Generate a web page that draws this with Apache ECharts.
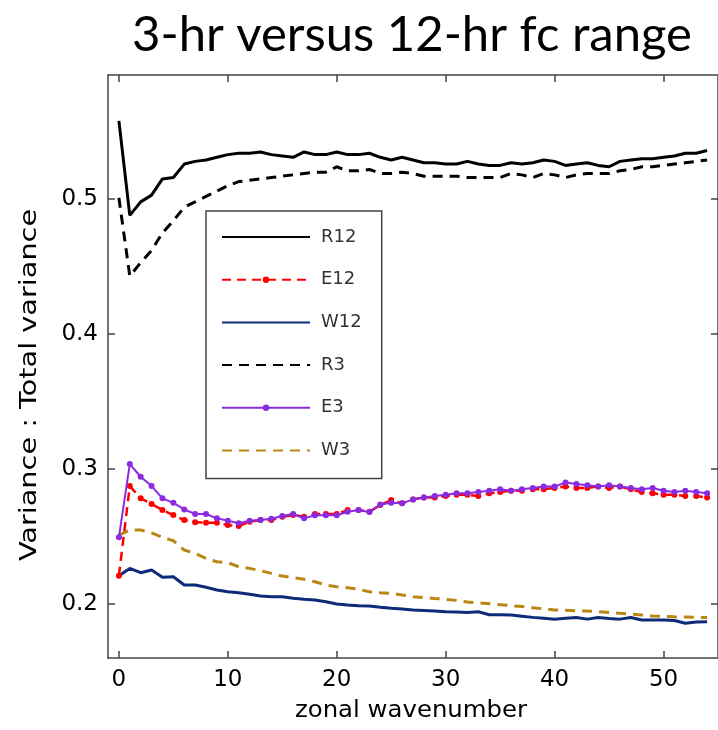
<!DOCTYPE html>
<html>
<head>
<meta charset="utf-8">
<script src="https://cdn.jsdelivr.net/npm/echarts@6/dist/echarts.min.js"></script>
<style>
html,body{margin:0;padding:0;background:#fff;}
#chart{width:718px;height:730px;}
</style>
</head>
<body>
<div id="chart"></div>
<script>
// ---- data ----
var title = '3-hr versus 12-hr fc range';
var xName = 'zonal wavenumber';
var yName = 'Variance : Total variance';
var xTicks = [0, 10, 20, 30, 40, 50];
var yTicks = [0.2, 0.3, 0.4, 0.5];
var seriesNames = ['R12', 'E12', 'W12', 'R3', 'E3', 'W3'];
var wavenumber = [0,1,2,3,4,5,6,7,8,9,10,11,12,13,14,15,16,17,18,19,20,21,22,23,24,25,26,27,28,29,30,31,32,33,34,35,36,37,38,39,40,41,42,43,44,45,46,47,48,49,50,51,52,53,54];

var R12 = [0.558,0.488,0.498,0.503,0.515,0.516,0.526,0.528,0.529,0.531,0.533,0.534,0.534,0.535,0.533,0.532,0.531,0.535,0.533,0.533,
           0.535,0.533,0.533,0.534,0.531,0.529,0.531,0.529,0.527,0.527,0.526,0.526,0.528,0.526,0.525,0.525,0.527,0.526,0.527,0.529,
           0.528,0.525,0.526,0.527,0.525,0.524,0.528,0.529,0.530,0.530,0.531,0.532,0.534,0.534,0.536];
var E12 = [0.221,0.2874,0.2783,0.2741,0.2696,0.2659,0.2622,0.2605,0.2603,0.2603,0.2585,0.2578,0.261,0.2622,0.2622,0.2647,0.2659,0.2647,0.2667,0.2667,
           0.2667,0.2696,0.2696,0.2684,0.2733,0.277,0.2746,0.2775,0.279,0.279,0.280,0.281,0.281,0.280,0.282,0.283,0.284,0.284,0.285,0.285,
           0.286,0.287,0.286,0.286,0.287,0.286,0.287,0.285,0.283,0.282,0.281,0.281,0.280,0.280,0.279];
var W12 = [0.221,0.2264,0.2232,0.2252,0.2198,0.2202,0.2141,0.2141,0.2124,0.2104,0.2091,0.2084,0.2072,0.2059,0.2054,0.2054,0.2042,0.2035,0.203,0.2017,
           0.2,0.1993,0.1988,0.1985,0.1976,0.1968,0.1963,0.1956,0.1952,0.1948,0.1943,0.194,0.1937,0.1943,0.192,0.192,0.1919,0.191,0.1901,0.1895,
           0.1887,0.1895,0.19,0.1888,0.19,0.1893,0.1888,0.19,0.1881,0.1881,0.1881,0.1878,0.1857,0.1866,0.1869];
var R3 = [0.501,0.443,0.453,0.462,0.475,0.484,0.494,0.498,0.502,0.506,0.510,0.513,0.514,0.515,0.516,0.517,0.518,0.519,0.520,0.520,
          0.524,0.521,0.521,0.522,0.519,0.519,0.520,0.519,0.517,0.517,0.517,0.517,0.516,0.516,0.516,0.516,0.519,0.518,0.516,0.519,
          0.518,0.516,0.518,0.519,0.519,0.519,0.521,0.522,0.524,0.524,0.525,0.526,0.527,0.528,0.529];
var E3 = [0.2494,0.3037,0.2943,0.2874,0.2783,0.275,0.2701,0.2667,0.2667,0.2635,0.2617,0.2598,0.2617,0.2622,0.2632,0.2652,0.2667,0.2635,0.2657,0.2657,
          0.2657,0.2684,0.2696,0.2681,0.2738,0.275,0.2746,0.2775,0.279,0.280,0.281,0.282,0.282,0.283,0.284,0.285,0.284,0.285,0.286,0.287,
          0.287,0.290,0.289,0.288,0.287,0.288,0.287,0.286,0.285,0.286,0.284,0.283,0.284,0.283,0.282];
var W3 = [0.251,0.2548,0.2548,0.2528,0.2494,0.2469,0.24,0.2375,0.2338,0.2313,0.2306,0.2276,0.2264,0.2247,0.2227,0.2207,0.2195,0.2183,0.2165,0.2141,
          0.2128,0.2121,0.2109,0.2091,0.2084,0.2079,0.2067,0.2054,0.2048,0.2041,0.2035,0.2027,0.2015,0.2008,0.2002,0.1995,0.1988,0.1981,0.1972,0.1964,
          0.1956,0.1953,0.195,0.1948,0.1944,0.1938,0.1931,0.1926,0.1918,0.1912,0.1908,0.1905,0.1903,0.1901,0.1901];

function pairs(vals) {
  return wavenumber.map(function (k, i) { return [k, vals[i]]; });
}

var chart = echarts.init(document.getElementById('chart'), null, {renderer: 'canvas'});
var axisColor = '#444';
var tickFont = 'DejaVu Sans, sans-serif';

function xAxisDef(pos, labels) {
  return {
    type: 'value', min: -1, max: 55, position: pos,
    axisLine: {show: true, onZero: false, lineStyle: {color: axisColor, width: 1.5}},
    axisTick: {show: true, inside: true, length: 7, customValues: xTicks, lineStyle: {color: axisColor, width: 1.5}},
    axisLabel: {show: labels, customValues: xTicks, color: '#000', fontSize: 23, fontFamily: tickFont, margin: 11},
    splitLine: {show: false}
  };
}
function yAxisDef(pos, labels) {
  return {
    type: 'value', min: 0.16, max: 0.592, position: pos,
    axisLine: {show: true, onZero: false, lineStyle: {color: axisColor, width: 1.5}},
    axisTick: {show: true, inside: true, length: 7, customValues: yTicks, lineStyle: {color: axisColor, width: 1.5}},
    axisLabel: {show: labels, customValues: yTicks, color: '#000', fontSize: 23, fontFamily: tickFont, margin: 10,
      formatter: function (v) { return v.toFixed(1); }},
    splitLine: {show: false}
  };
}

var noMark = {color: 'rgba(0,0,0,0)'};

var option = {
  backgroundColor: '#fff',
  animation: false,
  grid: {left: 108, top: 75, width: 612, height: 583, show: false},
  xAxis: [xAxisDef('bottom', true), xAxisDef('top', false)],
  yAxis: [yAxisDef('left', true), yAxisDef('right', false)],
  legend: {
    orient: 'vertical', left: 206, top: 211,
    backgroundColor: '#fff', borderColor: '#444', borderWidth: 1.5,
    padding: [17, 20, 19, 15],
    itemWidth: 88, itemHeight: 8, itemGap: 24.7,
    textStyle: {fontFamily: 'DejaVu Sans', fontSize: 18, lineHeight: 18, color: '#333', padding: [0, 0, 0, 6]},
    data: [
      {name: seriesNames[0], itemStyle: noMark},
      {name: seriesNames[1]},
      {name: seriesNames[2], itemStyle: noMark},
      {name: seriesNames[3], itemStyle: noMark},
      {name: seriesNames[4]},
      {name: seriesNames[5], itemStyle: noMark}
    ]
  },
  graphic: [
    {type: 'text', x: 412, y: 35, style: {text: title, font: '49px Lato', fill: '#000', align: 'center', verticalAlign: 'middle'}},
    {type: 'text', x: 411, y: 711, scaleX: 1.06, style: {text: xName, font: '23px "DejaVu Sans"', fill: '#000', align: 'center', verticalAlign: 'middle'}},
    {type: 'text', x: 30, y: 385, rotation: Math.PI / 2, scaleX: 1.25, style: {text: yName, font: '23px "DejaVu Sans"', fill: '#000', align: 'center', verticalAlign: 'middle'}}
  ],
  series: [
    {name: 'R12', type: 'line', data: pairs(R12), symbol: 'none', lineStyle: {color: '#000', width: 3}, itemStyle: {color: '#000'}, z: 2},
    {name: 'E12', type: 'line', data: pairs(E12), symbol: 'circle', symbolSize: 6, lineStyle: {color: '#ff0000', width: 2.5, type: [9, 6]}, itemStyle: {color: '#ff0000'}, z: 3},
    {name: 'W12', type: 'line', data: pairs(W12), symbol: 'none', lineStyle: {color: '#0d2b78', width: 3}, itemStyle: {color: '#0d2b78'}, z: 2},
    {name: 'R3', type: 'line', data: pairs(R3), symbol: 'none', lineStyle: {color: '#000', width: 3, type: [10, 7]}, itemStyle: {color: '#000'}, z: 2},
    {name: 'E3', type: 'line', data: pairs(E3), symbol: 'circle', symbolSize: 6, lineStyle: {color: '#8a2be2', width: 2}, itemStyle: {color: '#8a2be2'}, z: 4},
    {name: 'W3', type: 'line', data: pairs(W3), symbol: 'none', lineStyle: {color: '#bb8614', width: 3, type: [10, 7]}, itemStyle: {color: '#bb8614'}, z: 2}
  ]
};
chart.setOption(option);
</script>
</body>
</html>
